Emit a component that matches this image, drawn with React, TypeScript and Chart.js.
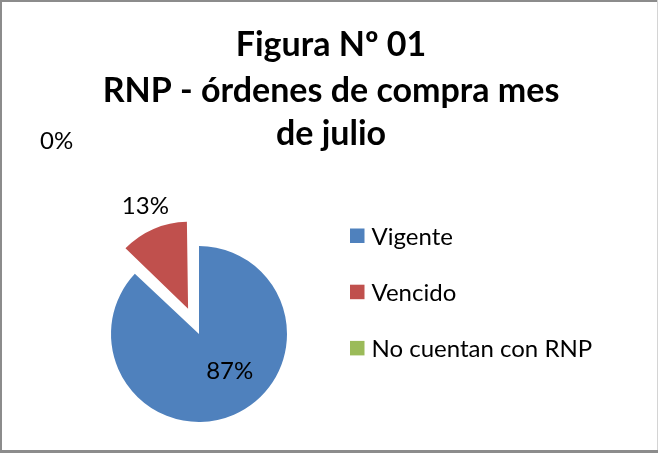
import React, { useEffect, useRef } from "react";
import { Chart, registerables } from "chart.js";

Chart.register(...registerables);

const TITLE_LINES = ["Figura Nº 01", "RNP - órdenes de compra mes", "de julio"];
const CATEGORIES = ["Vigente", "Vencido", "No cuentan con RNP"];
const VALUES = [87, 13, 0];
const PERCENT_LABELS = ["87%", "13%", "0%"];
const COLORS = ["#4F81BD", "#C0504D", "#9BBB59"];

// style / layout constants
const W = 658;
const H = 453;
const FONT = "Lato, 'Noto Sans', sans-serif";
const TITLE_SIZE = 34;
const TITLE_BASELINES = [56, 101.5, 145];
const TITLE_CX = 331;
const LEGEND_X = 350;
const LEGEND_FIRST_Y = 228.5;
const LEGEND_STEP = 56.2;
const LEGEND_BOX = 14.5;
const LEGEND_TEXT_GAP = 7;
const LEGEND_SIZE = 24;
const LABEL_SIZE = 24;
const PIE_RADIUS = 88;
const EXPLODE = [0, 110, 0];
const LABEL_SHIFT = [
  { dx: 13.2, dy: 4.9 },
  { dx: -36.2, dy: -79.6 },
  { dx: -142.3, dy: -140.7 },
];

const explodeFixPlugin = {
  id: "explodeFix",
  // keep exploded slices at the same radius as the rest of the pie
  afterDatasetsUpdate(chart: any) {
    const meta = chart.getDatasetMeta(0);
    meta.data.forEach((arc: any, i: number) => {
      const off = EXPLODE[i] / 4;
      if (!off) return;
      const circ = arc.endAngle - arc.startAngle;
      const grow = off * (1 - Math.sin(Math.min(Math.PI, circ)));
      arc.outerRadius = PIE_RADIUS - grow - 1;
    });
  },
};

const decorPlugin = {
  id: "decor",
  beforeDraw(chart: any) {
    const ctx = chart.ctx;
    ctx.save();
    ctx.fillStyle = "#ffffff";
    ctx.fillRect(0, 0, W, H);
    ctx.restore();
  },
  afterDraw(chart: any) {
    const ctx = chart.ctx;
    ctx.save();
    // frame
    ctx.fillStyle = "#8c8c8c";
    ctx.fillRect(0, 0, W, 2);
    ctx.fillRect(0, 0, 2, H);
    ctx.fillRect(0, H - 3, W, 3);
    ctx.fillStyle = "#d4d4d4";
    ctx.fillRect(W - 1, 0, 1, H - 3);

    // title
    ctx.fillStyle = "#000000";
    ctx.textAlign = "center";
    ctx.textBaseline = "alphabetic";
    ctx.font = `bold ${TITLE_SIZE}px ${FONT}`;
    TITLE_LINES.forEach((t, i) => ctx.fillText(t, TITLE_CX, TITLE_BASELINES[i]));

    // legend
    ctx.font = `${LEGEND_SIZE}px ${FONT}`;
    ctx.textAlign = "left";
    CATEGORIES.forEach((c, i) => {
      const y = LEGEND_FIRST_Y + i * LEGEND_STEP;
      ctx.fillStyle = COLORS[i];
      ctx.fillRect(LEGEND_X, y, LEGEND_BOX, LEGEND_BOX);
      ctx.fillStyle = "#000000";
      ctx.fillText(c, LEGEND_X + LEGEND_BOX + LEGEND_TEXT_GAP, y + LEGEND_BOX + 2);
    });

    // data labels (anchored at half radius along each slice's mid-angle)
    const meta = chart.getDatasetMeta(0);
    ctx.font = `${LABEL_SIZE}px ${FONT}`;
    ctx.textAlign = "center";
    meta.data.forEach((arc: any, i: number) => {
      const half = (arc.startAngle + arc.endAngle) / 2;
      const r = PIE_RADIUS / 2;
      const px = arc.x + Math.cos(half) * r;
      const py = arc.y + Math.sin(half) * r;
      ctx.fillStyle = "#000000";
      ctx.fillText(PERCENT_LABELS[i], px + LABEL_SHIFT[i].dx, py + LABEL_SHIFT[i].dy);
    });
    ctx.restore();
  },
};

export default function App() {
  const ref = useRef<HTMLCanvasElement>(null);
  useEffect(() => {
    document.body.style.margin = "0";
    const chart = new Chart(ref.current!, {
      type: "pie",
      data: {
        labels: CATEGORIES,
        datasets: [
          {
            data: VALUES,
            backgroundColor: COLORS,
            borderWidth: 0,
            offset: EXPLODE,
            radius: PIE_RADIUS,
          } as any,
        ],
      },
      options: {
        responsive: false,
        animation: false,
        layout: { padding: { left: 99, right: 359, top: 234, bottom: 19 } },
        plugins: {
          legend: { display: false },
          title: { display: false },
          tooltip: { enabled: false },
        },
        events: [],
      },
      plugins: [explodeFixPlugin, decorPlugin],
    });
    return () => chart.destroy();
  }, []);
  return <canvas ref={ref} width={W} height={H} style={{ display: "block" }} />;
}
